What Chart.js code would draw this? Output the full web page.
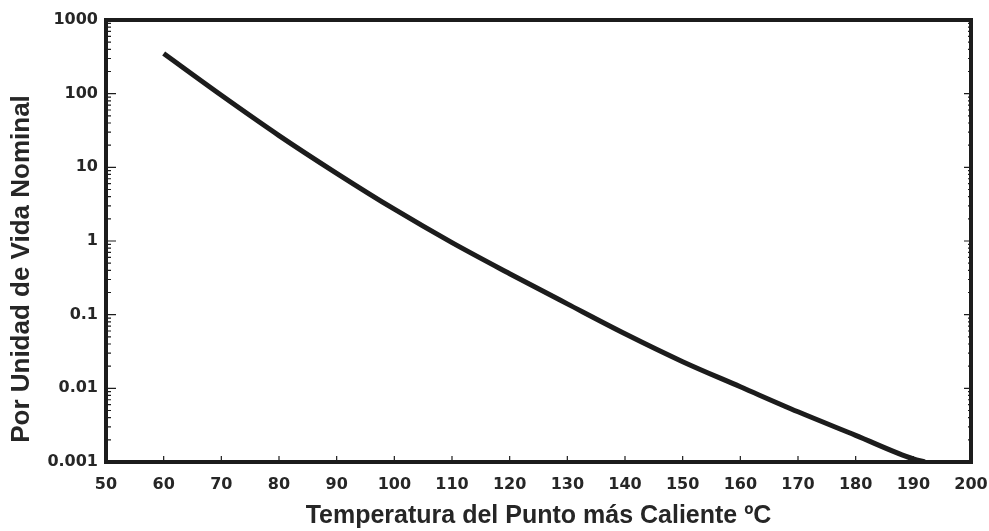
<!DOCTYPE html>
<html>
<head>
<meta charset="utf-8">
<script src="https://cdn.jsdelivr.net/npm/chart.js@4"></script>
<style>
html,body{margin:0;padding:0;background:#fff;}
#wrap{width:989px;height:531px;}
</style>
</head>
<body>
<div id="wrap"><canvas id="c" width="989" height="531"></canvas></div>
<script>
// Data
const temperatures = [60, 70, 80, 90, 100, 110, 120, 130, 140, 150, 160, 170, 180, 190, 192];
const perUnitLife  = [350, 95, 27, 8.3, 2.7, 0.95, 0.36, 0.14, 0.055, 0.023, 0.0105, 0.0048, 0.0023, 0.0011, 0.001];
const xTickValues  = [50, 60, 70, 80, 90, 100, 110, 120, 130, 140, 150, 160, 170, 180, 190, 200];
const yTickValues  = [0.001, 0.01, 0.1, 1, 10, 100, 1000];
const yTickLabels  = ['0.001', '0.01', '0.1', '1', '10', '100', '1000'];
const xTitle = 'Temperatura del Punto más Caliente ºC';
const yTitle = 'Por Unidad de Vida Nominal';

const points = temperatures.map((t, i) => ({ x: t, y: perUnitLife[i] }));
const INK = '#1c1c1c';
const TEXT = '#262626';

const framePlugin = {
  id: 'frame',
  afterDraw(chart) {
    const ctx = chart.ctx;
    const a = chart.chartArea;
    const xs = chart.scales.x, ys = chart.scales.y;
    ctx.save();
    ctx.strokeStyle = INK;
    ctx.lineWidth = 1.2;
    for (let e = -3; e < 3; e++) {
      for (let m = 1; m <= 9; m++) {
        const v = m * Math.pow(10, e);
        const py = ys.getPixelForValue(v);
        const major = m === 1;
        ctx.beginPath();
        ctx.moveTo(a.left, py); ctx.lineTo(a.left + (major ? 10 : 5), py);
        ctx.moveTo(a.right, py); ctx.lineTo(a.right - (major ? 7 : 3), py);
        ctx.stroke();
      }
    }
    xTickValues.forEach(v => {
      const px = xs.getPixelForValue(v);
      ctx.beginPath();
      ctx.moveTo(px, a.bottom); ctx.lineTo(px, a.bottom - 6);
      ctx.stroke();
    });
    ctx.lineWidth = 4;
    ctx.strokeRect(a.left, a.top, a.right - a.left, a.bottom - a.top);
    ctx.fillStyle = TEXT;
    ctx.font = 'bold 26px "Liberation Sans", Arial, sans-serif';
    ctx.textAlign = 'center';
    ctx.textBaseline = 'middle';
    ctx.translate(22, 269);
    ctx.rotate(-Math.PI / 2);
    ctx.fillText(yTitle, 0, 0);
    ctx.restore();
  }
};

new Chart(document.getElementById('c'), {
  type: 'line',
  data: {
    datasets: [{
      data: points,
      borderColor: INK,
      borderWidth: 5,
      pointRadius: 0,
      fill: false,
      cubicInterpolationMode: 'monotone',
      borderCapStyle: 'butt'
    }]
  },
  options: {
    responsive: false,
    devicePixelRatio: 1,
    animation: false,
    layout: { padding: { left: 0, right: 18, top: 20, bottom: 0 } },
    plugins: { legend: { display: false }, tooltip: { enabled: false } },
    scales: {
      x: {
        type: 'linear',
        min: 50, max: 200,
        afterBuildTicks: s => { s.ticks = xTickValues.map(v => ({ value: v })); },
        afterFit: s => { s.height = 69; s.paddingLeft = 0; s.paddingRight = 0; },
        grid: { display: false, drawTicks: false },
        border: { display: false },
        ticks: {
          autoSkip: false, maxRotation: 0, padding: 13,
          color: TEXT,
          font: { family: '"DejaVu Sans", sans-serif', size: 16, weight: 'bold' },
          callback: v => String(v)
        },
        title: {
          display: true, text: xTitle, color: TEXT,
          font: { family: '"Liberation Sans", Arial, sans-serif', size: 25, weight: 'bold' },
          padding: { top: 0, bottom: 0 }
        }
      },
      y: {
        type: 'logarithmic',
        min: 0.001, max: 1000,
        afterBuildTicks: s => { s.ticks = yTickValues.map(v => ({ value: v })); },
        afterFit: s => { s.width = 106; s.paddingTop = 0; s.paddingBottom = 0; },
        grid: { display: false, drawTicks: false },
        border: { display: false },
        ticks: {
          autoSkip: false, padding: 8,
          color: TEXT,
          font: { family: '"DejaVu Sans", sans-serif', size: 16, weight: 'bold' },
          callback: (v) => { const i = yTickValues.findIndex(t => Math.abs(t - v) / t < 1e-6); return i >= 0 ? yTickLabels[i] : ''; }
        }
      }
    }
  },
  plugins: [framePlugin]
});
</script>
</body>
</html>
